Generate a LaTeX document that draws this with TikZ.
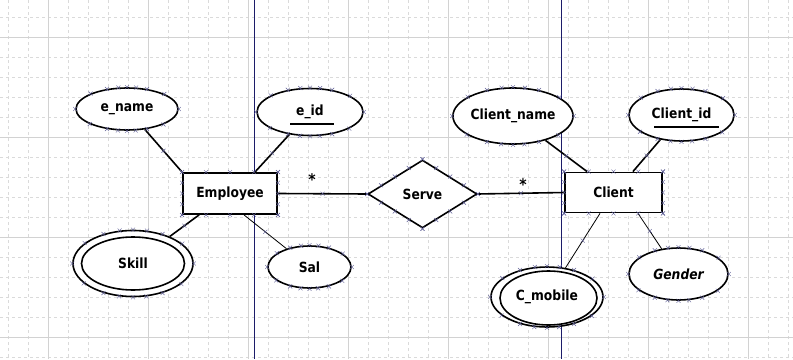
\documentclass[tikz,border=0pt]{standalone}
\usepackage{fontspec}
\setmainfont{DejaVu Sans}[FakeStretch=0.88]
\usetikzlibrary{shapes.geometric,calc}

\definecolor{gridmajor}{RGB}{210,210,210}
\definecolor{gridminor}{RGB}{218,218,218}
\definecolor{pagebreak}{RGB}{28,28,105}
\definecolor{handle}{RGB}{95,95,150}

\tikzset{
  lbl/.style={font=\bfseries\fontsize{14}{16}\selectfont},
  attr/.style={ellipse, draw, fill=white, line width=1.6pt, inner sep=0pt, lbl},
  ent/.style={rectangle, draw, fill=white, line width=1.8pt, inner sep=0pt, lbl},
  rel/.style={diamond, draw, fill=white, line width=1.6pt, inner sep=0pt, lbl},
  conn/.style={line width=1.6pt},
  thinconn/.style={line width=0.8pt},
  keyline/.style={line width=2.6pt},
  card/.style={inner sep=0pt, font=\bfseries\fontsize{16}{16}\selectfont},
  minorgrid/.style={gridminor, line width=0.6pt, dash pattern=on 3pt off 3pt},
  majorgrid/.style={gridmajor, line width=0.8pt},
  hx/.pic={\draw[handle, line width=0.4pt] (-2,-2) -- (2,2) (-2,2) -- (2,-2);}
}

\begin{document}
\begin{tikzpicture}[x=1pt,y=-1pt]
  % canvas
  \fill[white] (0,0) rectangle (793,359);
  \useasboundingbox (0,0) rectangle (793,359);

  % background grid
  \foreach \x in {8,28,...,788} \draw[minorgrid] (\x,0) -- (\x,359);
  \foreach \y in {17,37,...,357} \draw[minorgrid] (0,\y) -- (793,\y);
  \foreach \x in {48,148,...,748} \draw[majorgrid] (\x,0) -- (\x,359);
  \foreach \y in {37,137,237,337} \draw[majorgrid] (0,\y) -- (793,\y);

  % page boundaries
  \draw[pagebreak, line width=0.9pt] (254,0) -- (254,359);
  \draw[pagebreak, line width=0.9pt] (561.5,0) -- (561.5,359);

  % attributes of Employee
  \node[attr, minimum width=102pt, minimum height=42pt] (ename) at (127,109) {e\_name};
  \node[attr, minimum width=106pt, minimum height=47pt] (eid) at (310,112) {e\_id};
  \node[attr, minimum width=120pt, minimum height=66pt] (skill) at (133,263.5) {Skill};
  \node[attr, minimum width=83pt, minimum height=42pt] (sal) at (309.5,267) {Sal};
  \draw[line width=1.6pt] (skill.center) ellipse [x radius=51.5, y radius=26.5];

  % attributes of Client
  \node[attr, minimum width=120pt, minimum height=56pt] (cname) at (513,116) {Client\_name};
  \node[attr, minimum width=105pt, minimum height=52pt] (cid) at (681.5,115) {Client\_id};
  \node[attr, minimum width=112pt, minimum height=60pt] (cmob) at (547,297) {C\_mobile};
  \node[attr, minimum width=99pt, minimum height=52pt, font=\bfseries\itshape\fontsize{14}{16}\selectfont] (gender) at (678.5,274) {Gender};
  \draw[line width=1.6pt] ([xshift=1.5pt,yshift=-1pt]cmob.center) ellipse [x radius=48.5, y radius=27];

  % entities and relationship
  \node[ent, minimum width=94pt, minimum height=41pt] (emp) at (230,193.5) {Employee};
  \node[ent, minimum width=97pt, minimum height=40pt] (client) at (613.5,192.5) {Client};
  \node[rel, minimum width=109pt, minimum height=68pt, aspect=1.6] (serve) at (422.5,194) {Serve};

  % key underlines
  \draw[keyline] ([xshift=-20pt,yshift=-12pt]eid.center) -- ([xshift=24pt,yshift=-12pt]eid.center);
  \draw[keyline] ([xshift=-27.5pt,yshift=-12pt]cid.center) -- ([xshift=37.5pt,yshift=-12pt]cid.center);

  % connectors
  \draw[conn] (ename) -- coordinate[pos=.5] (m1) (emp.north west);
  \draw[conn] (eid) -- coordinate[pos=.5] (m2) ([xshift=-23pt]emp.north east);
  \draw[conn] (skill) -- coordinate[pos=.5] (m3) ([xshift=17pt]emp.south west);
  \draw[thinconn] (sal) -- coordinate[pos=.5] (m4) ([xshift=14pt]emp.south);
  \draw[conn] (emp.east) -- coordinate[pos=.5] (m5) (serve.west);
  \draw[conn] (serve.east) -- coordinate[pos=.5] (m6) (client.west);
  \draw[conn] (cname) -- coordinate[pos=.5] (m7) ([xshift=23pt]client.north west);
  \draw[conn] (cid) -- coordinate[pos=.5] (m8) ([xshift=-30pt]client.north east);
  \draw[thinconn] (cmob) -- coordinate[pos=.5] (m9) ([xshift=-13.5pt]client.south);
  \draw[thinconn] (gender) -- coordinate[pos=.5] (m10) ([xshift=24.5pt]client.south);

  % cardinalities
  \node[card] (card1) at (312,180) {*};
  \node[card] (card2) at (523,185) {*};

  % connection-point handles
  \foreach \n in {ename,eid,skill,sal,cname,cid,cmob,gender}
    \foreach \a in {0,22.5,...,337.5}
      \pic at (\n.\a) {hx};
  \foreach \n in {emp,client}
    \foreach \t in {0,0.25,...,1} {
      \pic at ($(\n.north west)!\t!(\n.north east)$) {hx};
      \pic at ($(\n.south west)!\t!(\n.south east)$) {hx};
      \pic at ($(\n.north west)!\t!(\n.south west)$) {hx};
      \pic at ($(\n.north east)!\t!(\n.south east)$) {hx};
    }
  \foreach \t in {0,0.25,...,1} {
    \pic at ($(serve.north)!\t!(serve.east)$) {hx};
    \pic at ($(serve.east)!\t!(serve.south)$) {hx};
    \pic at ($(serve.south)!\t!(serve.west)$) {hx};
    \pic at ($(serve.west)!\t!(serve.north)$) {hx};
  }
  \foreach \m in {m1,m2,m3,m4,m5,m6,m7,m8,m9,m10}
    \pic at (\m) {hx};
\end{tikzpicture}
\end{document}
